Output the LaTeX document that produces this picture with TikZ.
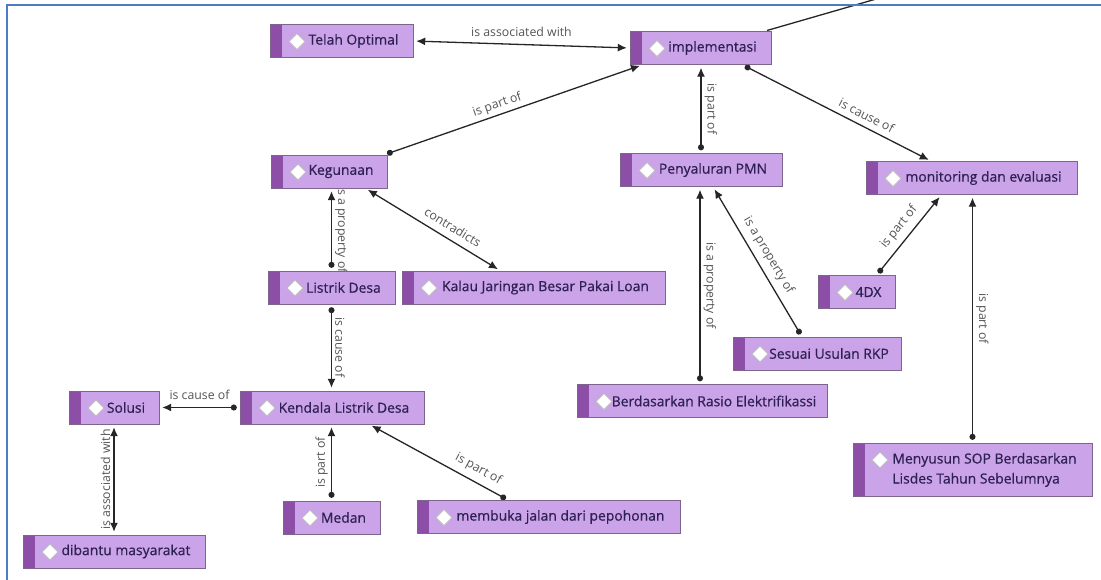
\documentclass[tikz,border=0pt]{standalone}
\usepackage{fontspec}
\setmainfont{Open Sans}
\newfontfamily\conceptfont{Open Sans}[FakeBold=0.6]
\usetikzlibrary{arrows.meta, backgrounds}
\definecolor{conceptfill}{RGB}{203,163,232}
\definecolor{conceptstrip}{RGB}{140,78,166}
\definecolor{conceptline}{RGB}{125,100,140}
\definecolor{concepttext}{RGB}{45,32,82}
\definecolor{linkgrey}{RGB}{85,85,85}
\definecolor{frameblue}{RGB}{74,126,193}
\pgfdeclarelayer{links}
\pgfsetlayers{background,links,main}

\begin{document}
\begin{tikzpicture}[
  x=1pt, y=-1pt,
  concept/.style={draw=conceptline, fill=conceptfill, text=concepttext, minimum height=33pt, inner xsep=0pt,
    font=\conceptfont\fontsize{13.9}{20}\selectfont, execute at begin node={\hspace*{24pt}},
    path picture={
      \fill[conceptstrip] (path picture bounding box.south west) rectangle ([xshift=12pt]path picture bounding box.north west);
      \filldraw[draw=black!25, fill=white, line width=0.8pt] ([xshift=27pt,yshift=-9pt]path picture bounding box.north west) -- ++(8,8) -- ++(-8,8) -- ++(-8,-8) -- cycle;
    }},
  lbl/.style={font=\fontsize{12.3}{14}\selectfont, text=linkgrey, inner sep=3pt},
  link/.style={draw=black!85, line width=1.3pt, {Circle[length=6pt]}-{Latex[length=9pt,width=8pt]}, shorten <=3pt, shorten >=3pt},
  assoc/.style={draw=black!85, line width=1.3pt, {Latex[length=9pt,width=8pt]}-{Latex[length=9pt,width=8pt]}, shorten <=3pt, shorten >=3pt}
]
\useasboundingbox (0,0) rectangle (1101,579);
\begin{pgfonlayer}{background}
\fill[white] (0,0) rectangle (1101,579);
\end{pgfonlayer}

\node[concept, minimum width=143pt] (telah) at (341.5,41) {Telah Optimal};
\node[concept, minimum width=141pt] (impl) at (700.5,48) {implementasi};
\node[concept, minimum width=116pt] (keg) at (329,171.5) {Kegunaan};
\node[concept, minimum width=162pt] (peny) at (701,170) {Penyaluran PMN};
\node[concept, minimum width=211pt] (monev) at (971.5,178) {monitoring dan evaluasi};
\node[concept, minimum width=127pt] (listrik) at (331.5,287.5) {Listrik Desa};
\node[concept, minimum width=263pt] (kalau) at (533.5,287.5) {Kalau Jaringan Besar Pakai Loan};
\node[concept, minimum width=77pt] (empatdx) at (856.5,292) {4DX};
\node[concept, minimum width=168pt] (sesuai) at (817,353.5) {Sesuai Usulan RKP};
\node[concept, minimum width=250pt] (berdas) at (702,401) {Berdasarkan Rasio Elektrifikassi};
\node[concept, minimum width=90pt] (solusi) at (114,407.5) {Solusi};
\node[concept, minimum width=184pt] (kendala) at (332,407.5) {Kendala Listrik Desa};
\node[concept, minimum width=97pt] (medan) at (331.5,517.5) {Medan};
\node[concept, minimum width=182pt] (dibantu) at (114,551.5) {dibantu masyarakat};
\node[concept, minimum width=263pt] (membuka) at (548.5,517) {membuka jalan dari pepohonan};
\node[concept, minimum width=239pt, minimum height=53pt] (sop) at (972.5,469.5) {\begin{tabular}{@{}l@{}}Menyusun SOP Berdasarkan\\Lisdes Tahun Sebelumnya\end{tabular}};
\coordinate (offtop) at (890,-5);

\begin{pgfonlayer}{links}
\draw[assoc] (telah.east) -- (impl.west) node[lbl, midway, above, yshift=4pt] {is associated with};
\draw[link] ([xshift=-3pt]keg.north east) -- ([xshift=13pt]impl.south west) node[lbl, sloped, above, pos=0.45] {is part of};
\draw[link] (peny.north) -- (peny.north |- impl.south) node[lbl, midway, rotate=-90, above] {is part of};
\draw[link] ([xshift=-29pt]impl.south east) -- ([xshift=-40pt]monev.north) node[lbl, sloped, above, pos=0.63, yshift=3pt] {is cause of};
\draw[link, -] ([xshift=-7pt]impl.north east) -- (offtop);
\draw[link] (listrik.north) -- (listrik.north |- keg.south) node[lbl, midway, rotate=-90, above] {is a property of};
\draw[assoc] ([xshift=-22pt]keg.south east) -- ([xshift=-33pt]kalau.north) node[lbl, sloped, above, pos=0.6, yshift=4pt] {contradicts};
\draw[link] (listrik.south) -- (listrik.south |- kendala.north) node[lbl, midway, rotate=-90, above] {is cause of};
\draw[link] (kendala.west) -- (solusi.east) node[lbl, midway, above, yshift=4pt] {is cause of};
\draw[assoc] (solusi.south) -- (solusi.south |- dibantu.north) node[lbl, midway, rotate=90, above] {is associated with};
\draw[link] (medan.north) -- (medan.north |- kendala.south) node[lbl, midway, rotate=90, above] {is part of};
\draw[link] ([xshift=-40pt]membuka.north) -- ([xshift=37pt]kendala.south) node[lbl, sloped, above, pos=0.26, yshift=3pt] {is part of};
\draw[link] ([xshift=-2pt]berdas.north) -- ([xshift=-2pt]berdas.north |- peny.south) node[lbl, midway, rotate=-90, above] {is a property of};
\draw[link] ([xshift=-15pt]sesuai.north) -- ([xshift=12pt]peny.south) node[lbl, sloped, above, midway, yshift=3pt] {is a property of};
\draw[link] ([xshift=20pt]empatdx.north) -- ([xshift=-30pt]monev.south) node[lbl, sloped, above, midway, yshift=3pt] {is part of};
\draw[link] (sop.north) -- (sop.north |- monev.south) node[lbl, midway, rotate=-90, above] {is part of};
\end{pgfonlayer}

\draw[frameblue, line width=2.5pt] (7,590) -- (7,5) -- (1110,5);
\end{tikzpicture}
\end{document}
